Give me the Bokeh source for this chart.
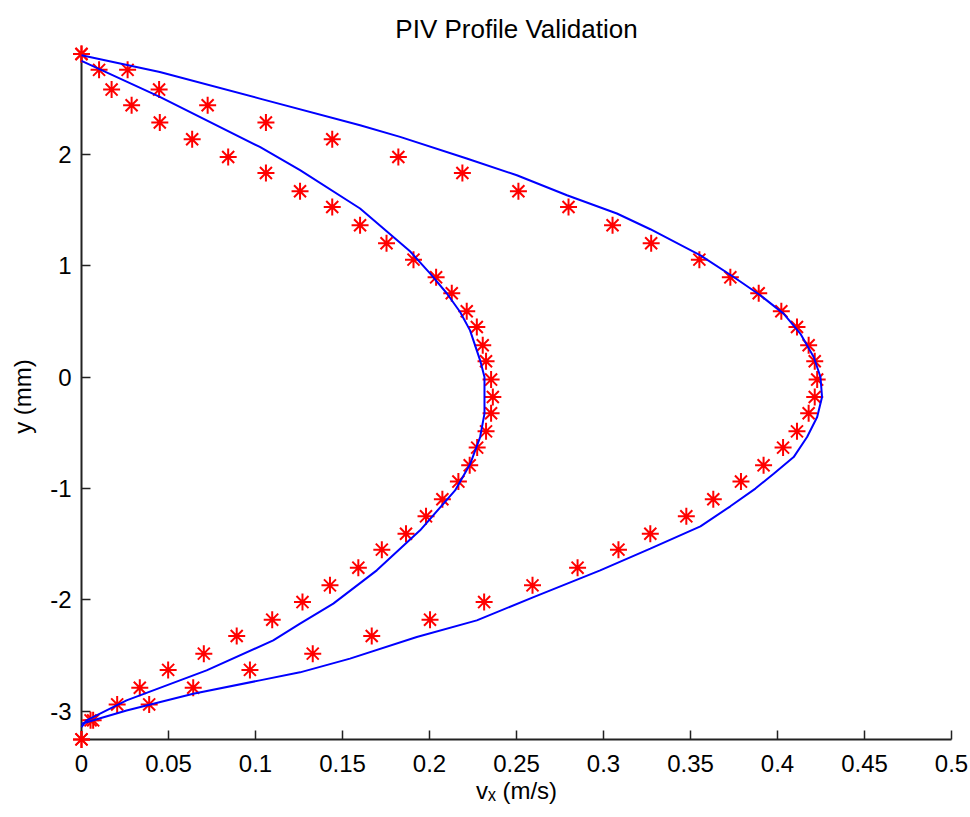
from bokeh.plotting import figure
from bokeh.models import Range1d, FixedTicker
from bokeh.embed import file_html
from bokeh.resources import INLINE

# Measured PIV samples: wall-normal position (mm) and streamwise velocity (m/s)
y_mm = [2.90, 2.758, 2.581, 2.440, 2.285, 2.135, 1.976, 1.832, 1.668, 1.527,
        1.363, 1.201, 1.054, 0.895, 0.752, 0.590, 0.449, 0.285, 0.141, -0.023,
        -0.180, -0.326, -0.488, -0.634, -0.793, -0.939, -1.098, -1.251, -1.407, -1.550,
        -1.712, -1.871, -2.021, -2.179, -2.326, -2.484, -2.630, -2.790, -2.940, -3.083,
        -3.254]
vx_low = [0.0, 0.0101, 0.0173, 0.0288, 0.0450, 0.0636, 0.0843, 0.1060, 0.1256, 0.1441,
          0.1601, 0.1753, 0.1908, 0.2038, 0.2128, 0.2214, 0.2272, 0.2306, 0.2325, 0.2354,
          0.2364, 0.2354, 0.2325, 0.2274, 0.2231, 0.2166, 0.2074, 0.1980, 0.1865, 0.1726,
          0.1591, 0.1428, 0.1270, 0.1096, 0.0892, 0.0703, 0.0498, 0.0335, 0.0205, 0.0052,
          0.0]
vx_high = [0.0, 0.0265, 0.0446, 0.0725, 0.1060, 0.1441, 0.1821, 0.2189, 0.2511, 0.2799,
           0.3052, 0.3274, 0.3551, 0.3729, 0.3892, 0.4022, 0.4112, 0.4179, 0.4214, 0.4228,
           0.4214, 0.4179, 0.4112, 0.4032, 0.3920, 0.3790, 0.3631, 0.3476, 0.3269, 0.3086,
           0.2851, 0.2592, 0.2314, 0.2003, 0.1668, 0.1329, 0.0968, 0.0642, 0.0389, 0.0067,
           0.0]

# Reference (theoretical) profiles
theory_low_y = [2.838, 2.515, 2.066, 1.857, 1.513, 1.129, 0.931, 0.752, 0.584, 0.419,
                0.150, 0.0, -0.329, -0.539, -0.784, -1.018, -1.377, -1.736, -2.035, -2.215,
                -2.365, -2.634, -2.904, -3.083, -3.144]
theory_low_vx = [0.0, 0.0450, 0.1025, 0.1256, 0.1601, 0.1888, 0.2003, 0.2099, 0.2176, 0.2233,
                 0.2291, 0.2316, 0.2316, 0.2291, 0.2233, 0.2147, 0.1946, 0.1697, 0.1447, 0.1256,
                 0.1102, 0.0719, 0.0259, 0.0029, 0.0]
theory_high_y = [2.889, 2.739, 2.500, 2.261, 2.156, 1.962, 1.812, 1.632, 1.468, 1.327,
                 1.093, 0.898, 0.734, 0.569, 0.390, 0.180, 0.0, -0.180, -0.359, -0.539,
                 -0.719, -0.868, -1.002, -1.161, -1.341, -1.541, -1.736, -1.976, -2.185, -2.335,
                 -2.529, -2.652, -2.724, -2.844, -2.994, -3.113]
theory_high_vx = [0.0, 0.0450, 0.1025, 0.1601, 0.1831, 0.2214, 0.2502, 0.2790, 0.3077, 0.3269,
                  0.3557, 0.3748, 0.3901, 0.4035, 0.4131, 0.4208, 0.4247, 0.4256, 0.4228, 0.4170,
                  0.4093, 0.3978, 0.3873, 0.3729, 0.3557, 0.3269, 0.2981, 0.2598, 0.2272, 0.1927,
                  0.1543, 0.1256, 0.1025, 0.0642, 0.0259, 0.0]

x_ticks = [0, 0.05, 0.1, 0.15, 0.2, 0.25, 0.3, 0.35, 0.4, 0.45, 0.5]
x_tick_labels = ["0", "0.05", "0.1", "0.15", "0.2", "0.25", "0.3", "0.35", "0.4", "0.45", "0.5"]
y_ticks = [-3, -2, -1, 0, 1, 2]
y_tick_labels = ["-3", "-2", "-1", "0", "1", "2"]

FONT = "Liberation Sans"

p = figure(width=970, height=817, output_backend="svg", toolbar_location=None,
           x_range=Range1d(0, 0.5), y_range=Range1d(-3.255, 2.905),
           min_border_left=81, min_border_right=19, min_border_top=53, min_border_bottom=78,
           title="PIV Profile Validation")
p.outline_line_color = None
p.grid.visible = False
p.background_fill_color = "white"
p.border_fill_color = "white"

p.title.text_font = FONT
p.title.text_font_size = "26px"
p.title.text_font_style = "normal"
p.title.text_color = "black"
p.title.align = "center"
p.title.standoff = 20

for ax in (p.xaxis[0], p.yaxis[0]):
    ax.axis_line_color = "#222222"
    ax.axis_line_width = 2
    ax.major_tick_line_color = "#222222"
    ax.major_tick_line_width = 1.5
    ax.major_tick_in = 9
    ax.major_tick_out = 0
    ax.minor_tick_line_color = None
    ax.major_label_text_font = FONT
    ax.major_label_text_font_size = "24px"
    ax.major_label_text_color = "black"
    ax.axis_label_text_font = FONT
    ax.axis_label_text_font_size = "24px"
    ax.axis_label_text_font_style = "normal"
    ax.axis_label_text_color = "black"

p.xaxis.ticker = FixedTicker(ticks=x_ticks)
p.xaxis.major_label_overrides = dict(zip(x_ticks, x_tick_labels))
p.xaxis.major_label_standoff = 15
p.xaxis.axis_label = "v\u2093 (m/s)"
p.xaxis.axis_label_standoff = 2

p.yaxis.ticker = FixedTicker(ticks=y_ticks)
p.yaxis.major_label_overrides = dict(zip(y_ticks, y_tick_labels))
p.yaxis.major_label_standoff = 10
p.yaxis.axis_label = "y (mm)"
p.yaxis.axis_label_standoff = 11

# measured points, drawn unclipped so edge markers stay whole
p.scatter(vx_low, y_mm, marker="asterisk", size=17, line_color="red", line_width=2, level="overlay")
p.scatter(vx_high, y_mm, marker="asterisk", size=17, line_color="red", line_width=2, level="overlay")

p.line(theory_low_vx, theory_low_y, line_color="blue", line_width=2, level="overlay")
p.line(theory_high_vx, theory_high_y, line_color="blue", line_width=2, level="overlay")

open("out.html", "w").write(file_html(p, INLINE))
